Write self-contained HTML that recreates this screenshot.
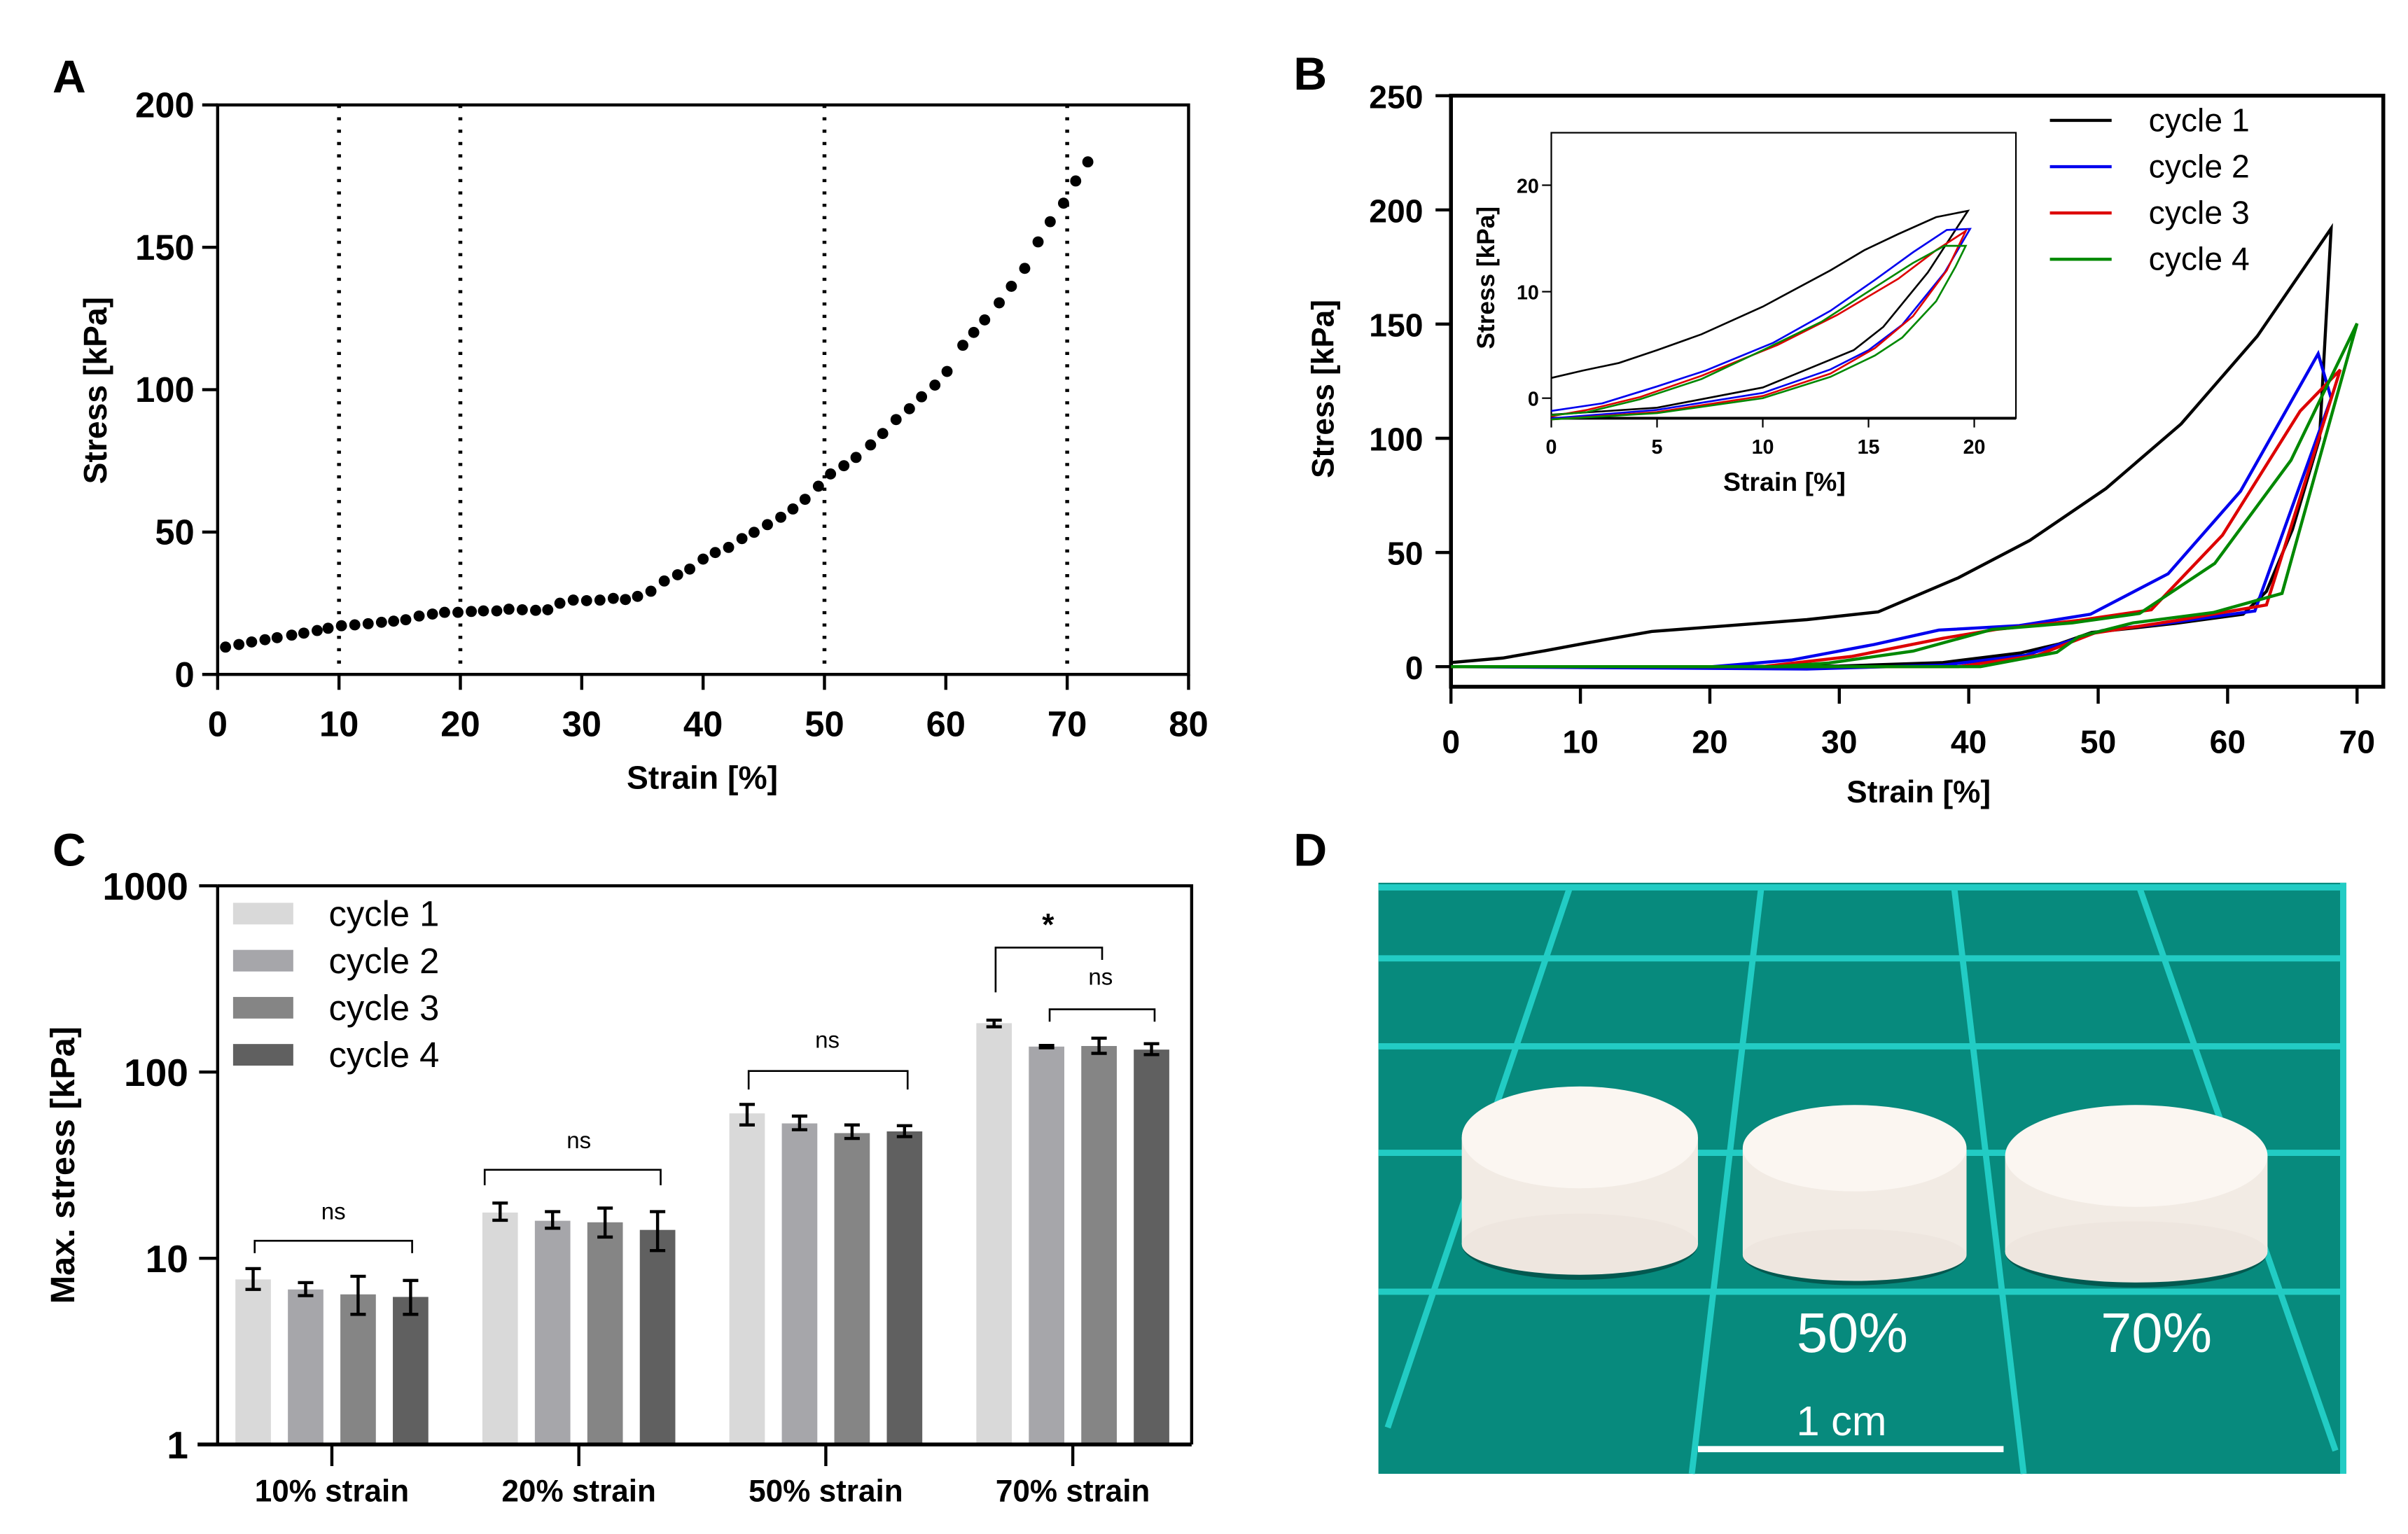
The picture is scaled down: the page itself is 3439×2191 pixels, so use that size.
<!DOCTYPE html>
<html><head><meta charset="utf-8"><style>
html,body{margin:0;padding:0;background:#fff;}
svg{display:block;}
text{font-family:"Liberation Sans Narrow","Liberation Sans",sans-serif;}
.lbl{font-family:"Liberation Sans",sans-serif;font-weight:bold;}
.tk{font-weight:bold;}
</style></head><body>
<svg id="fig" width="3439" height="2191" viewBox="0 0 1560 994" preserveAspectRatio="none" xmlns="http://www.w3.org/2000/svg">
<g id="pA"></g>
<g id="pB"></g>
<g id="pC"></g>
<g id="pD"></g>
</svg>
<script>
// ---------- Panel A data ----------
const aStrain=[0.65,1.75,2.8,3.9,4.9,6.1,7.1,8.2,9.1,10.2,11.3,12.4,13.5,14.5,15.5,16.6,17.7,18.7,19.8,20.9,21.9,23.0,24.0,25.1,26.2,27.2,28.2,29.3,30.4,31.5,32.6,33.6,34.6,35.7,36.8,37.9,38.9,40.0,41.0,42.1,43.2,44.2,45.3,46.4,47.4,48.4,49.5,50.5,51.6,52.6,53.8,54.8,55.9,57.0,58.0,59.1,60.1,61.4,62.3,63.2,64.4,65.4,66.5,67.6,68.6,69.7,70.7,71.7];
const aStress=[9.6,10.5,11.4,12.2,12.9,13.8,14.5,15.4,16.2,17.1,17.4,17.8,18.3,18.7,19.2,20.5,21.2,21.8,21.8,22.1,22.3,22.3,22.9,22.7,22.5,22.7,25.0,26.1,25.9,26.1,26.7,26.3,27.4,29.2,32.8,35.0,37.0,40.5,42.8,44.6,47.7,49.9,52.6,55.2,58.1,61.5,66.1,70.4,73.3,76.2,80.6,84.6,89.5,93.3,97.5,101.6,106.4,115.6,120.1,124.5,130.5,136.3,142.6,151.9,159.0,165.5,173.3,180.0];
const aXTicks=[0,10,20,30,40,50,60,70,80];
const aYTicks=[0,50,100,150,200];
const aGuides=[10,20,50,70];
// ---------- Panel B data ----------
const bC1x=[0,4,7.3,10.5,15.5,20.5,27.5,33,39.2,44.7,50.6,56.4,62.3,68,67.1,65,63,61.2,56,52,49.5,47,44,38,30,20,0];
const bC1y=[1.8,3.8,7,10.4,15.4,17.6,20.6,24,38.9,55.2,78,106.3,144.7,191.9,100,60,33,23,19,16.5,15,10,6,1.8,0.3,0,0];
const bC2x=[0,20.2,26.3,32.7,37.7,43.9,49.4,55.4,61,67,68,62.1,55.5,50.3,44.4,38,27.5,0];
const bC2y=[0,0,2.9,9.7,16,18,23,40.7,76.8,137,117.5,24.4,19.2,15.8,5,0.7,-1,0];
const bC3x=[0,24,31,38,42.1,48.5,54.1,59.6,65.6,68.7,63,56.1,49.7,45.3,39.2,0];
const bC3y=[0,0,4.5,12.4,16.3,20.3,24.9,57.6,111.9,130,27,20.3,14.7,5,0,0];
const bC4x=[0,25,29.2,35.7,41.8,48,53.2,59,64.9,70,64.2,58.9,52.7,48.5,46.8,40.9,0];
const bC4y=[0,0,1.6,6.8,16.3,19.2,23.3,45.2,90.4,150.3,32.1,23.7,19.2,13.1,6.3,0,0];
const bXTicks=[0,10,20,30,40,50,60,70];
const bYTicks=[0,50,100,150,200,250];
// inset
const iC1x=[0,5,10,14.3,15.7,17.8,19.7,18.2,16.4,14.8,13.2,10,7.1,5,3.2,1.5,0];
const iC1y=[-1.55,-0.9,1,4.5,6.7,11.8,17.6,17,15.4,13.9,12,8.6,6,4.5,3.3,2.6,1.9];
const iC2x=[0,5,10,13.2,15,16.6,18.6,19.8,18.7,17.1,15.3,13.2,10.5,7.3,5,2.4,0];
const iC2y=[-1.9,-1.1,0.5,2.7,4.5,6.9,11.8,15.9,15.8,13.7,11.1,8.2,5.2,2.6,1.1,-0.5,-1.2];
const iC3x=[0,5,10,13.2,15.3,17.1,18.7,19.6,18.2,16.4,13.5,10.7,7.1,4.2,1.7,0];
const iC3y=[-2,-1.3,0.2,2.3,4.7,7.7,12,15.7,13.9,11.2,7.8,5,2.1,0.1,-1.1,-1.7];
const iC4x=[0,5,10,13.2,15.3,16.6,18.2,19.1,19.6,18.6,17.1,15.3,12.8,10,7.1,4.2,1.7,0];
const iC4y=[-2,-1.4,0,2,4,5.7,9.1,12.3,14.3,14.3,12.7,10.4,7.2,4.5,1.8,-0.1,-1.3,-1.6];
const iXTicks=[0,5,10,15,20];
const iYTicks=[0,10,20];
// ---------- Panel C data ----------
const cGroups=["10% strain","20% strain","50% strain","70% strain"];
const cSeries=["cycle 1","cycle 2","cycle 3","cycle 4"];
const cMean=[[7.7,6.8,6.4,6.2],[17.6,15.9,15.6,14.2],[60,53,47,48],[183,137,138,132]];
const cLow=[[6.8,6.3,5.0,5.0],[16,14.5,13,11],[52,49,44,45],[175,135,126,124]];
const cHigh=[[8.8,7.4,8.0,7.6],[19.8,17.8,18.6,17.8],[67,58,52,51.5],[190,139,152,142]];
const cYTicks=[1,10,100,1000];

const NS="http://www.w3.org/2000/svg";
function mk(parent,tag,attrs,txt){const e=document.createElementNS(NS,tag);for(const k in attrs)e.setAttribute(k,attrs[k]);if(txt!==undefined)e.textContent=txt;parent.appendChild(e);return e;}

// ===== Panel A =====
(function(){
const g=document.getElementById('pA');
const X=v=>141+(v/80)*(770-141), Y=v=>437-(v/200)*(437-68);
let t=mk(g,'text',{x:34,y:60,'font-size':30,class:'lbl'},'A');


let r=mk(g,'rect',{x:141,y:68,width:629,height:369,fill:'none',stroke:'#000','stroke-width':2});


aGuides.forEach(v=>{const l=mk(g,'line',{x1:X(v),x2:X(v),y1:68,y2:437,stroke:'#000','stroke-width':2.5,'stroke-dasharray':'2 6'});

});
aXTicks.forEach(v=>{mk(g,'line',{x1:X(v),x2:X(v),y1:437,y2:447,stroke:'#000','stroke-width':2});
const tx=mk(g,'text',{x:X(v),y:477,'font-size':23,'text-anchor':'middle',class:'tk'},v);

});
aYTicks.forEach(v=>{mk(g,'line',{x1:131,x2:141,y1:Y(v),y2:Y(v),stroke:'#000','stroke-width':2});
const tx=mk(g,'text',{x:126,y:Y(v)+8,'font-size':23,'text-anchor':'end',class:'tk'},v);

});
aStrain.forEach((s,i)=>{const c=mk(g,'circle',{cx:X(s),cy:Y(aStress[i]),r:3.6,fill:'#000'});

});
t=mk(g,'text',{x:455,y:511,'font-size':21,'text-anchor':'middle',class:'lbl'},'Strain [%]');


t=mk(g,'text',{x:0,y:0,'font-size':21,'text-anchor':'middle',class:'lbl',transform:'translate(69,253) rotate(-90)'},'Stress [kPa]');


})();

// ===== Panel B =====
(function(){
const g=document.getElementById('pB');
const X=v=>940+(v/70)*(1527-940), Y=v=>432-(v/250)*(432-62);
let t=mk(g,'text',{x:838,y:58,'font-size':30,class:'lbl'},'B');


mk(g,'path',{d:'M940 62 H1544 V445 H940 Z',fill:'none',stroke:'#000','stroke-width':2.5});
bXTicks.forEach(v=>{mk(g,'line',{x1:X(v),x2:X(v),y1:445,y2:456,stroke:'#000','stroke-width':2});
const tx=mk(g,'text',{x:X(v),y:488,'font-size':21,'text-anchor':'middle',class:'tk'},v);

});
bYTicks.forEach(v=>{mk(g,'line',{x1:930,x2:940,y1:Y(v),y2:Y(v),stroke:'#000','stroke-width':2});
const tx=mk(g,'text',{x:922,y:Y(v)+8,'font-size':21,'text-anchor':'end',class:'tk'},v);

});
const cols=['#000000','#0000ee','#dd0000','#008800'];
const sx=[bC1x,bC2x,bC3x,bC4x], sy=[bC1y,bC2y,bC3y,bC4y];
sx.forEach((xs,k)=>{const d=xs.map((x,i)=>(i?'L':'M')+X(x).toFixed(1)+' '+Y(sy[k][i]).toFixed(1)).join(' ');
const p=mk(g,'path',{d:d,fill:'none',stroke:cols[k],'stroke-width':2});

});
['cycle 1','cycle 2','cycle 3','cycle 4'].forEach((n,k)=>{const y=78+k*30;
mk(g,'line',{x1:1328,x2:1368,y1:y,y2:y,stroke:cols[k],'stroke-width':2});
const tx=mk(g,'text',{x:1392,y:y+7,'font-size':21},n);

});
t=mk(g,'text',{x:1243,y:520,'font-size':20,'text-anchor':'middle',class:'lbl'},'Strain [%]');


t=mk(g,'text',{x:0,y:0,'font-size':20,'text-anchor':'middle',class:'lbl',transform:'translate(864,252) rotate(-90)'},'Stress [kPa]');


const ig=mk(g,'g',{});


mk(ig,'rect',{x:1005,y:86,width:301,height:185,fill:'#fff',stroke:'#000','stroke-width':1});
mk(ig,'line',{x1:1005,x2:1306,y1:271,y2:271,stroke:'#000','stroke-width':1.8});
const IX=v=>1005+(v/20)*(1279-1005), IY=v=>258-(v/20)*(258-120);
iXTicks.forEach(v=>{mk(ig,'line',{x1:IX(v),x2:IX(v),y1:271,y2:277,stroke:'#000','stroke-width':1});
const tx=mk(ig,'text',{x:IX(v),y:294,'font-size':13,'text-anchor':'middle',class:'tk'},v);

});
iYTicks.forEach(v=>{mk(ig,'line',{x1:999,x2:1005,y1:IY(v),y2:IY(v),stroke:'#000','stroke-width':1});
const tx=mk(ig,'text',{x:997,y:IY(v)+5,'font-size':13,'text-anchor':'end',class:'tk'},v);

});
const ix=[iC1x,iC2x,iC3x,iC4x], iy=[iC1y,iC2y,iC3y,iC4y];
ix.forEach((xs,k)=>{const d=xs.map((x,i)=>(i?'L':'M')+IX(x).toFixed(1)+' '+IY(iy[k][i]).toFixed(1)).join(' ');
const p=mk(ig,'path',{d:d,fill:'none',stroke:cols[k],'stroke-width':1.2});

});
t=mk(ig,'text',{x:1156,y:318,'font-size':17,'text-anchor':'middle',class:'lbl'},'Strain [%]');


t=mk(ig,'text',{x:0,y:0,'font-size':16,'text-anchor':'middle',class:'lbl',transform:'translate(968,180) rotate(-90)'},'Stress [kPa]');


})();

// ===== Panel C =====
(function(){
const g=document.getElementById('pC');
const Y=v=>936-Math.log10(v)*((936-574)/3);
const gx=[215,375,535,695], off=[-51,-17,17,51];
const cols=['#d9d9d9','#a6a6aa','#858585','#606060'];
let t=mk(g,'text',{x:34,y:561,'font-size':30,class:'lbl'},'C');


mk(g,'path',{d:'M141 574 H772 V936',fill:'none',stroke:'#000','stroke-width':2});
cGroups.forEach((n,i)=>{cMean[i].forEach((m,k)=>{const cx=gx[i]+off[k];
const b=mk(g,'rect',{x:cx-11.5,y:Y(m),width:23,height:936-Y(m),fill:cols[k]});


const e=mk(g,'path',{d:`M${cx} ${Y(cHigh[i][k])} V${Y(cLow[i][k])} M${cx-5} ${Y(cHigh[i][k])} H${cx+5} M${cx-5} ${Y(cLow[i][k])} H${cx+5}`,stroke:'#000','stroke-width':2,fill:'none'});

});
mk(g,'line',{x1:gx[i],x2:gx[i],y1:936,y2:950,stroke:'#000','stroke-width':2});
const tx=mk(g,'text',{x:gx[i],y:973,'font-size':20,'text-anchor':'middle',class:'lbl'},n);

});
mk(g,'line',{x1:141,x2:141,y1:574,y2:936,stroke:'#000','stroke-width':2});
mk(g,'line',{x1:128,x2:772,y1:936,y2:936,stroke:'#000','stroke-width':2.5});
cYTicks.forEach(v=>{mk(g,'line',{x1:129,x2:141,y1:Y(v),y2:Y(v),stroke:'#000','stroke-width':2});
const tx=mk(g,'text',{x:122,y:Y(v)+9,'font-size':25,'text-anchor':'end',class:'tk'},v);

});
const br=[[165,267,804,812,812,'ns',216,790],[314,428,758,768,768,'ns',375,744],[485,588,694,706,706,'ns',536,679],[680,748,654,662,662,'ns',713,638]];
br.forEach(b=>{const p=mk(g,'path',{d:`M${b[0]} ${b[3]} V${b[2]} H${b[1]} V${b[4]}`,fill:'none',stroke:'#000','stroke-width':1.2});


const tx=mk(g,'text',{x:b[6],y:b[7],'font-size':15,'text-anchor':'middle'},b[5]);

});
const p=mk(g,'path',{d:'M645 643 V614 H714 V622',fill:'none',stroke:'#000','stroke-width':1.2});


t=mk(g,'text',{x:679,y:606,'font-size':20,'text-anchor':'middle',class:'lbl'},'*');


cSeries.forEach((n,k)=>{const y=592+k*30.5;
mk(g,'rect',{x:151,y:y-7,width:39,height:14,fill:cols[k]});
const tx=mk(g,'text',{x:213,y:y+8,'font-size':23},n);

});
t=mk(g,'text',{x:0,y:0,'font-size':22,'text-anchor':'middle',class:'lbl',transform:'translate(48,755) rotate(-90)'},'Max. stress [kPa]');


})();

// ===== Panel D =====
(function(){
const g=document.getElementById('pD');
let t=mk(g,'text',{x:838,y:561,'font-size':30,class:'lbl'},'D');


const ph=mk(g,'g',{});


mk(ph,'rect',{x:893,y:572,width:627,height:383,fill:'#078a7d'});
const hl=[575,621,678,747,837];
hl.forEach(y=>mk(ph,'line',{x1:893,x2:1520,y1:y,y2:y,stroke:'#22ccc4','stroke-width':4}));
const vl=[[1017,575,899,925],[1141,575,1096,955],[1266,575,1311,955],[1386,575,1513,940],[1518,572,1518,955]];
vl.forEach(l=>mk(ph,'line',{x1:l[0],y1:l[1],x2:l[2],y2:l[3],stroke:'#22ccc4','stroke-width':4}));
const discs=[[947,1100,704,826,33],[1129,1274,716,830,28],[1299,1469,716,831,33]];
discs.forEach((d,i)=>{const cx=(d[0]+d[1])/2, rx=(d[1]-d[0])/2, ry=d[4];
mk(ph,'ellipse',{cx:cx,cy:d[3]-ry*0.6,rx:rx,ry:ry*0.7,fill:'rgba(0,40,35,0.5)'});
mk(ph,'rect',{x:d[0],y:d[2]+ry,width:rx*2,height:d[3]-d[2]-ry*1.6,fill:'#f2ebe4'});
mk(ph,'ellipse',{cx:cx,cy:d[3]-ry*0.6,rx:rx,ry:ry*0.6,fill:'#eee6df'});
const e=mk(ph,'ellipse',{cx:cx,cy:d[2]+ry,rx:rx,ry:ry,fill:'#fbf6f1'});

});
t=mk(ph,'text',{x:1200,y:876,'font-size':36,'text-anchor':'middle',fill:'#fff'},'50%');


t=mk(ph,'text',{x:1397,y:876,'font-size':36,'text-anchor':'middle',fill:'#fff'},'70%');


t=mk(ph,'text',{x:1193,y:930,'font-size':27,'text-anchor':'middle',fill:'#fff'},'1 cm');


const sb=mk(ph,'rect',{x:1100,y:937,width:198,height:4,fill:'#fff'});


})();
</script>
</body></html>
